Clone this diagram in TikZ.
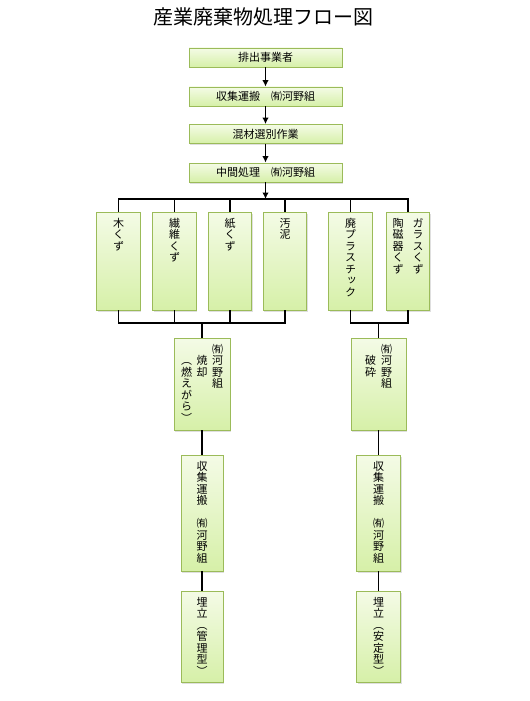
\documentclass[tikz,border=0pt]{standalone}
\usepackage{fontspec}
\setmainfont{Noto Sans CJK JP}
\newfontfamily\tatefont[RawFeature=+vert]{Noto Sans CJK JP}
\usetikzlibrary{shadows,arrows.meta}

\definecolor{boxline}{HTML}{9BBB59}
\definecolor{boxtop}{HTML}{F4FBE6}
\definecolor{boxbottom}{HTML}{D6F0A8}

% one column of vertical text, one character per row, fixed pitch
\newcommand{\tate}[1]{\vtop{\offinterlineskip\let\\\cr\halign{\hfil\smash{##}\vrule height 8bp depth 3.5bp width 0pt\hfil\cr#1\crcr}}}
% text hung from the top of a tall box
\newcommand{\inbox}[2]{\parbox[c][#1][t]{10bp}{\centering\makebox[0pt]{#2}}}

\begin{document}
\begin{tikzpicture}[x=1bp, y=-1bp,
	box/.style={draw=boxline, line width=0.8bp, top color=boxtop, bottom color=boxbottom, drop shadow={opacity=0.25, shadow xshift=1bp, shadow yshift=-1.5bp}, font=\fontsize{11bp}{11.5bp}\selectfont},
	wide/.style={box, minimum width=153bp, minimum height=19bp, inner sep=0pt},
	tall/.style={box, inner xsep=0pt, inner ysep=7bp, font=\tatefont\fontsize{11bp}{11.5bp}\selectfont},
	link/.style={line width=1.5bp}, >={Latex[length=6.5bp,width=6.5bp]}]

\useasboundingbox (0,0) rectangle (530,701);

\node (title) at (263.5,17) {\fontsize{20bp}{24bp}\selectfont 産業廃棄物処理フロー図};

\node[wide] (gen) at (265.5,57.5) {排出事業者};
\node[wide] (haul) at (265.5,96.5) {収集運搬　㈲河野組};
\node[wide] (sort) at (265.5,134) {混材選別作業};
\node[wide] (mid) at (265.5,172.5) {中間処理　㈲河野組};

\node[tall, minimum width=43.5bp] (wood) at (118.5,261) {\inbox{84bp}{\tate{木\\く\\ず}}};
\node[tall, minimum width=43.5bp] (fiber) at (174.5,261) {\inbox{84bp}{\tate{繊\\維\\く\\ず}}};
\node[tall, minimum width=43.5bp] (paper) at (230,261) {\inbox{84bp}{\tate{紙\\く\\ず}}};
\node[tall, minimum width=43.5bp] (sludge) at (285,261) {\inbox{84bp}{\tate{汚\\泥}}};
\node[tall, minimum width=43.5bp] (plastic) at (350.5,261) {\inbox{84bp}{\tate{廃\\プ\\ラ\\ス\\チ\\ッ\\ク}}};
\node[tall, minimum width=43.5bp] (glass) at (408,261) {\inbox{84bp}{\tate{陶\\磁\\器\\く\\ず}\hspace{9bp}\tate{ガ\\ラ\\ス\\く\\ず}}};

\node[tall, minimum width=56bp] (burn) at (202,384) {\inbox{78bp}{\tate{\\（\\燃\\え\\が\\ら\\）}\hspace{4.5bp}\tate{\\焼\\却}\hspace{4.5bp}\tate{㈲\\河\\野\\組}}};
\node[tall, minimum width=55bp] (crush) at (378.5,384) {\inbox{78bp}{\tate{\\破\\砕}\hspace{5bp}\tate{㈲\\河\\野\\組}}};

\node[tall, minimum width=42bp] (haulL) at (202,513) {\inbox{102bp}{\tate{収\\集\\運\\搬\\ \\㈲\\河\\野\\組}}};
\node[tall, minimum width=44bp] (haulR) at (378.5,513) {\inbox{102bp}{\tate{収\\集\\運\\搬\\ \\㈲\\河\\野\\組}}};
\node[tall, minimum width=42bp] (fillL) at (202,636.5) {\inbox{77bp}{\tate{埋\\立\\（\\管\\理\\型\\）}}};
\node[tall, minimum width=44bp] (fillR) at (378.5,636.5) {\inbox{77bp}{\tate{埋\\立\\（\\安\\定\\型\\）}}};

\coordinate (bus) at (265.5,199);
\coordinate (joinL) at (202,323);
\coordinate (joinR) at (378.5,323);

\draw[link,->] (gen) -- (haul);
\draw[link,->] (haul) -- (sort);
\draw[link,->] (sort) -- (mid);
\draw[link,->] (mid) -- (bus);

\draw[link] (wood.north) |- (glass.north |- bus) -- (glass.north);
\foreach \n in {fiber,paper,sludge,plastic}
	\draw[link] (\n.north) -- (\n.north |- bus);

\draw[link] (wood.south) |- (sludge.south |- joinL) -- (sludge.south);
\foreach \n in {fiber,paper}
	\draw[link] (\n.south) -- (\n.south |- joinL);
\draw[link] (joinL) -- (burn);

\draw[link] (plastic.south) |- (glass.south |- joinR) -- (glass.south);
\draw[link] (joinR) -- (crush);

\draw[link] (burn) -- (haulL);
\draw[link] (haulL) -- (fillL);
\draw[link] (crush) -- (haulR);
\draw[link] (haulR) -- (fillR);
\end{tikzpicture}
\end{document}
